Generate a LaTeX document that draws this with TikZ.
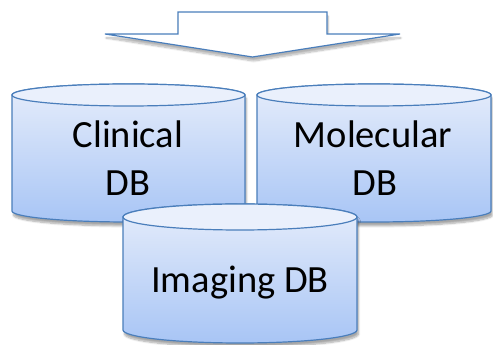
\documentclass[tikz,border=0pt]{standalone}
\usepackage{fontspec}
\setmainfont{Carlito}
\usetikzlibrary{shadows.blur}
\definecolor{dbline}{HTML}{4A7EBB}
\definecolor{dbtop}{HTML}{EAF0FC}
\definecolor{dbhigh}{HTML}{E6EDFB}
\definecolor{dblow}{HTML}{A8C5F5}
\tikzset{
  dbbody/.style={draw=dbline, line width=1.2pt, top color=dbhigh, bottom color=dblow,
    blur shadow={shadow xshift=1.5pt, shadow yshift=-4pt, shadow blur steps=8, shadow opacity=35}},
  dbcap/.style={draw=dbline, line width=1.2pt, fill=dbtop},
  bigarrow/.style={draw=dbline, line width=1.2pt, fill=white, line join=miter,
    blur shadow={shadow xshift=1pt, shadow yshift=-4pt, shadow blur steps=8, shadow opacity=30}},
  dbtext/.style={anchor=base, inner sep=0pt, font=\fontsize{38.5}{46}\selectfont}
}
\newcommand\dbcyl[5]{% cx, rx, ytop, ybottom, ry
  \path[dbbody] (#1-#2,#4) -- (#1-#2,#3) arc[start angle=180, end angle=0, x radius=#2, y radius=#5]
    -- (#1+#2,#4) arc[start angle=360, end angle=180, x radius=#2, y radius=#5] -- cycle;
  \path[dbcap] (#1,#3) ellipse[x radius=#2, y radius=#5];
}
\begin{document}
\begin{tikzpicture}[x=1pt,y=1pt]
\useasboundingbox (0,0) rectangle (493,345);
% arrow
\path[bigarrow] (178,333) -- (327,333) -- (327,311) -- (400,311) -- (252.5,288) -- (105,311) -- (178,311) -- cycle;
% Clinical
\dbcyl{128.5}{116.5}{250}{134}{11}
\node[dbtext] (clin1) at (128,197) {Clinical};
\node[dbtext] (clin2) at (128,149) {DB};
% Molecular
\dbcyl{374}{117}{250}{134}{11}
\node[dbtext] (mol1) at (373,197) {Molecular};
\node[dbtext] (mol2) at (375,149) {DB};
% Imaging
\dbcyl{240}{117}{128}{15}{13}
\node[dbtext] (img) at (240,52) {Imaging DB};
\end{tikzpicture}
\end{document}
